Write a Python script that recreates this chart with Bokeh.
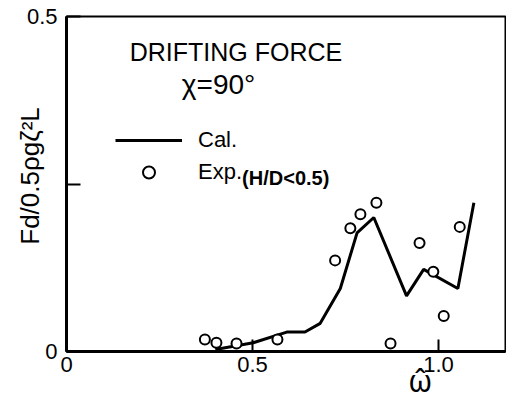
from bokeh.plotting import figure
from bokeh.models import Range1d, FixedTicker, Label, Legend, LegendItem, LinearAxis
from bokeh.embed import file_html
from bokeh.resources import INLINE

# Calculated drifting force (line)
cal_omega = [0.40, 0.502, 0.592, 0.641, 0.682, 0.736, 0.781, 0.826, 0.914, 0.960, 1.052, 1.095]
cal_force = [0.003, 0.013, 0.029, 0.029, 0.042, 0.094, 0.177, 0.200, 0.083, 0.1225, 0.094, 0.222]

# Experimental values (H/D < 0.5)
exp_omega = [0.372, 0.403, 0.457, 0.567, 0.722, 0.763, 0.790, 0.833, 0.871, 0.949, 0.986, 1.014, 1.057]
exp_force = [0.018, 0.013, 0.012, 0.018, 0.136, 0.184, 0.205, 0.222, 0.012, 0.162, 0.119, 0.053, 0.186]

x_ticks = [0, 0.5, 1.0]
x_tick_labels = {0: "0", 0.5: "0.5", 1.0: "1.0"}
y_ticks = [0, 0.25, 0.5]
y_tick_labels = {0: "0", 0.25: "", 0.5: "0.5"}

x_title = "ω̂"
x_title_pos = 0.951
y_title = "Fd/0.5ρgζ²L"
y_title_pos = 0.262

FONT = "Liberation Sans"

p = figure(width=506, height=403, output_backend="svg", toolbar_location=None,
           x_range=Range1d(0, 1.18), y_range=Range1d(0, 0.5),
           min_border_left=66, min_border_right=1, min_border_top=16, min_border_bottom=0)
p.background_fill_color = "white"
p.border_fill_color = "white"
p.xgrid.visible = False
p.ygrid.visible = False
p.outline_line_color = "black"
p.outline_line_width = 2

for ax in (p.xaxis[0], p.yaxis[0]):
    ax.axis_line_width = 3
    ax.axis_line_color = "black"
    ax.major_tick_out = 0
    ax.minor_tick_in = 0
    ax.minor_tick_out = 0
    ax.major_tick_line_width = 2
    ax.major_label_text_font = FONT
    ax.major_label_text_font_size = "22px"
    ax.major_label_text_color = "black"

p.xaxis[0].ticker = FixedTicker(ticks=x_ticks)
p.xaxis[0].major_label_overrides = x_tick_labels
p.xaxis[0].major_tick_in = 12
p.xaxis[0].major_label_standoff = 5
p.yaxis[0].ticker = FixedTicker(ticks=y_ticks)
p.yaxis[0].major_label_overrides = y_tick_labels
p.yaxis[0].major_tick_in = 14
p.yaxis[0].major_label_standoff = 9

# axis titles placed as single-tick labels on extra axes
xaxis2 = LinearAxis(ticker=FixedTicker(ticks=[x_title_pos]),
                    major_label_overrides={x_title_pos: x_title},
                    axis_line_color=None, major_tick_line_color=None, minor_tick_line_color=None,
                    major_label_text_font="Noto Sans", major_label_text_font_size="30px",
                    major_label_text_color="black", major_label_standoff=-21)
p.add_layout(xaxis2, "below")
yaxis2 = LinearAxis(ticker=FixedTicker(ticks=[y_title_pos]),
                    major_label_overrides={y_title_pos: y_title},
                    major_label_orientation="vertical",
                    axis_line_color=None, major_tick_line_color=None, minor_tick_line_color=None,
                    major_label_text_font=FONT, major_label_text_font_size="26px",
                    major_label_text_color="black", major_label_standoff=-28)
p.add_layout(yaxis2, "left")

line_r = p.line(cal_omega, cal_force, line_color="black", line_width=3)
circ_r = p.scatter(exp_omega, exp_force, marker="circle", size=10,
                   fill_color="white", line_color="black", line_width=2)

legend = Legend(items=[LegendItem(label="Cal.", renderers=[line_r]),
                       LegendItem(label="Exp.", renderers=[circ_r])],
                location=(49, 164), padding=0, margin=0, spacing=2,
                glyph_width=67, glyph_height=30, label_height=30, label_standoff=16,
                border_line_color=None, background_fill_alpha=0,
                label_text_font=FONT, label_text_font_size="22px", label_text_color="black")
p.add_layout(legend)

p.add_layout(Label(x=0.472, y=0.2586, text="(H/D<0.5)", text_font=FONT, text_color="black",
                   text_font_size="20px", text_font_style="bold", text_baseline="middle"))
p.add_layout(Label(x=0.170, y=0.447, text="DRIFTING FORCE", text_font=FONT, text_color="black",
                   text_font_size="25px", text_baseline="middle"))
p.add_layout(Label(x=0.310, y=0.398, text="χ=90°", text_font=FONT, text_color="black",
                   text_font_size="28px", text_baseline="middle"))

open("out.html", "w").write(file_html(p, INLINE))
